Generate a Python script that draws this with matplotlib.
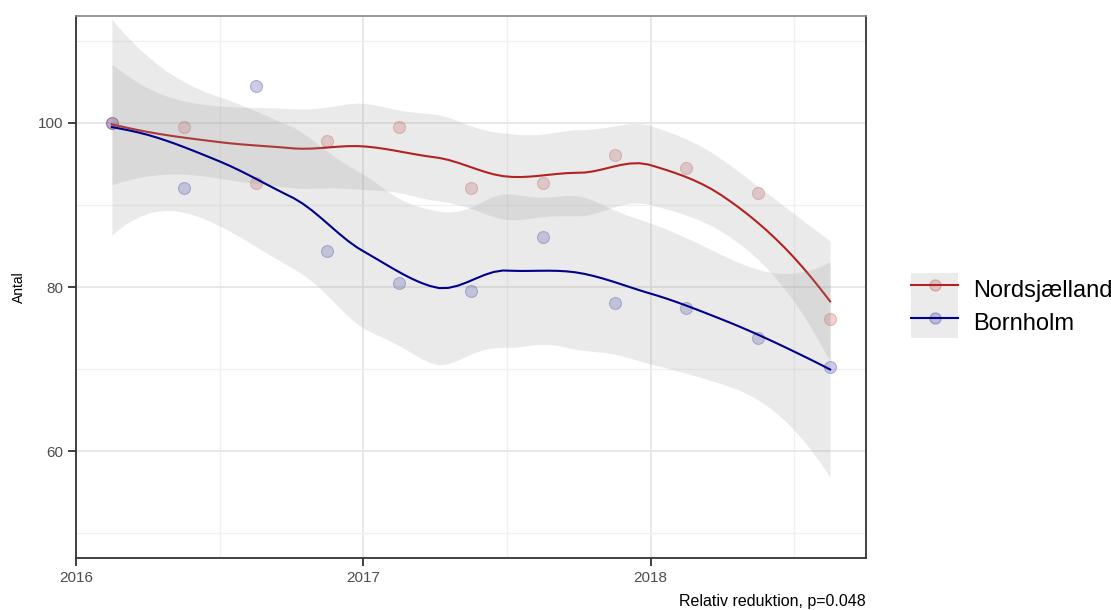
import math
import numpy as np
import matplotlib
matplotlib.use("Agg")
import matplotlib.pyplot as plt
from matplotlib.lines import Line2D
from matplotlib.patches import Patch
from matplotlib.legend_handler import HandlerTuple
from matplotlib.colors import to_rgba

plt.rcParams['font.family'] = ['Liberation Sans', 'DejaVu Sans']

# kvartalsvise målinger, tid i decimalår
tid = [2016.125, 2016.375, 2016.625, 2016.875, 2017.125, 2017.375,
       2017.625, 2017.875, 2018.125, 2018.375, 2018.625]
nordsjaelland = [100.0, 99.5, 92.7, 97.8, 99.5, 92.0, 92.7, 96.1, 94.5, 91.4, 76.1]
bornholm = [100.0, 92.0, 104.5, 84.4, 80.45, 79.5, 86.1, 78.1, 77.5, 73.8, 70.3]

serier = ['Nordsjælland', 'Bornholm']
farver = {'Nordsjælland': '#B22222', 'Bornholm': '#00008B'}
aar_ticks = [2016, 2017, 2018]
y_ticks = [60, 80, 100]


def t_kvantil(p, df):
    # t-fordelingens kvantil via numerisk integration af tætheden
    g = np.linspace(0, 30, 300001)
    c = math.gamma((df + 1) / 2) / (math.sqrt(df * math.pi) * math.gamma(df / 2))
    pdf = c * (1 + g ** 2 / df) ** (-(df + 1) / 2)
    cdf = 0.5 + np.concatenate([[0], np.cumsum((pdf[1:] + pdf[:-1]) / 2 * np.diff(g))])
    return np.interp(p, cdf, g)


def loess(x, y, xs, span=0.75, niveau=0.95):
    # lokal kvadratisk regression, beregnet i knuder og interpoleret
    # med kubisk Hermite (som R's loess, surface = "interpolate")
    x = np.asarray(x, float)
    y = np.asarray(y, float)
    xs = np.asarray(xs, float)
    x0 = x[0]
    x, xs = x - x0, xs - x0
    n = len(x)
    q = int(np.floor(n * span))

    def lokal(v):
        d = np.abs(x - v)
        h = np.sort(d)[q - 1]
        w = np.clip(1 - (d / h) ** 3, 0, None) ** 3
        X = np.column_stack([np.ones(n), x - v, (x - v) ** 2])
        A = X.T @ (w[:, None] * X)
        B = np.linalg.solve(A, X.T * w)
        return B[0], B[1]

    marg = 0.005 * (x.max() - x.min())
    knuder = np.concatenate([[x.min() - marg], (x[:-1] + x[1:]) / 2, [x.max() + marg]])
    val = []
    der = []
    for v in knuder:
        a, b = lokal(v)
        val.append(a)
        der.append(b)
    val, der = np.array(val), np.array(der)

    def raekker(pts):
        out = []
        for t in pts:
            j = min(np.searchsorted(knuder, t, side='right') - 1, len(knuder) - 2)
            j = max(j, 0)
            h = knuder[j + 1] - knuder[j]
            s = (t - knuder[j]) / h
            h00 = 2 * s ** 3 - 3 * s ** 2 + 1
            h10 = s ** 3 - 2 * s ** 2 + s
            h01 = -2 * s ** 3 + 3 * s ** 2
            h11 = s ** 3 - s ** 2
            out.append(h00 * val[j] + h10 * h * der[j] + h01 * val[j + 1] + h11 * h * der[j + 1])
        return np.array(out)

    L = raekker(x)
    R = np.eye(n) - L
    M = R.T @ R
    one_delta = np.trace(M)
    two_delta = np.trace(M @ M)
    sigma = np.sqrt(np.sum((R @ y) ** 2) / one_delta)
    rows = raekker(xs)
    fit = rows @ y
    se = sigma * np.sqrt(np.sum(rows ** 2, axis=1))
    tq = t_kvantil(1 - (1 - niveau) / 2, one_delta ** 2 / two_delta)
    return fit, fit - tq * se, fit + tq * se


fig = plt.figure(figsize=(11.11, 6.10), dpi=100)
ax = fig.add_axes([0.0684, 0.0852, 0.7111, 0.8886])

xs = np.linspace(tid[0], tid[-1], 80)
for navn, vaerdier in zip(serier, [nordsjaelland, bornholm]):
    ax.scatter(tid, vaerdier, s=75, color=to_rgba(farver[navn], 0.2),
               edgecolors=to_rgba(farver[navn], 0.25), linewidths=0.8, zorder=2)

for navn, vaerdier in zip(serier, [nordsjaelland, bornholm]):
    fit, lav, hoej = loess(tid, vaerdier, xs)
    ax.fill_between(xs, lav, hoej, color='#999999', alpha=0.2, linewidth=0, zorder=3)
    ax.plot(xs, fit, color=farver[navn], lw=1.5, zorder=3)

ax.set_xlim(2016.0, 2018.75)
ax.set_ylim(47.0, 113.0)
ax.set_xticks(aar_ticks)
ax.set_xticklabels([str(a) for a in aar_ticks])
ax.set_yticks(y_ticks)
ax.set_xticks([2016.5, 2017.5, 2018.5], minor=True)
ax.set_yticks([50, 70, 90, 110], minor=True)
ax.grid(which='major', color='#E6E6E6', lw=1.3, zorder=0)
ax.grid(which='minor', color='#F0F0F0', lw=1.0, zorder=0)
ax.set_axisbelow(True)
ax.tick_params(which='major', length=6, width=1.3, color='#333333',
               labelsize=11, labelcolor='#4D4D4D', pad=3)
ax.tick_params(which='minor', length=0)
for side in ['left', 'bottom', 'right']:
    ax.spines[side].set_color('#333333')
    ax.spines[side].set_linewidth(1.3)
ax.spines['top'].set_color('#888888')
ax.spines['top'].set_linewidth(1.2)

ax.set_ylabel('Antal', fontsize=10, color='black', labelpad=9)

# nøgle: grå båndfarve bag linje og punkt
handles = []
for navn in serier:
    handles.append((Patch(facecolor='#EBEBEB', edgecolor='none'),
                    Line2D([], [], color=farver[navn], lw=1.5, marker='o', ms=8,
                           markerfacecolor=to_rgba(farver[navn], 0.2),
                           markeredgecolor=to_rgba(farver[navn], 0.25))))
fig.legend(handles, serier, handler_map={tuple: HandlerTuple(ndivide=1, pad=0)},
           loc='center left', bbox_to_anchor=(0.82, 0.499),
           bbox_transform=fig.transFigure, frameon=False, fontsize=17,
           handlelength=2.0, handleheight=1.75, labelspacing=0,
           handletextpad=0.65, borderpad=0, borderaxespad=0)

fig.text(0.7795, 0.002, 'Relativ reduktion, p=0.048', ha='right', va='bottom',
         fontsize=11.5, color='black')

fig.savefig('out.png', dpi=100)
